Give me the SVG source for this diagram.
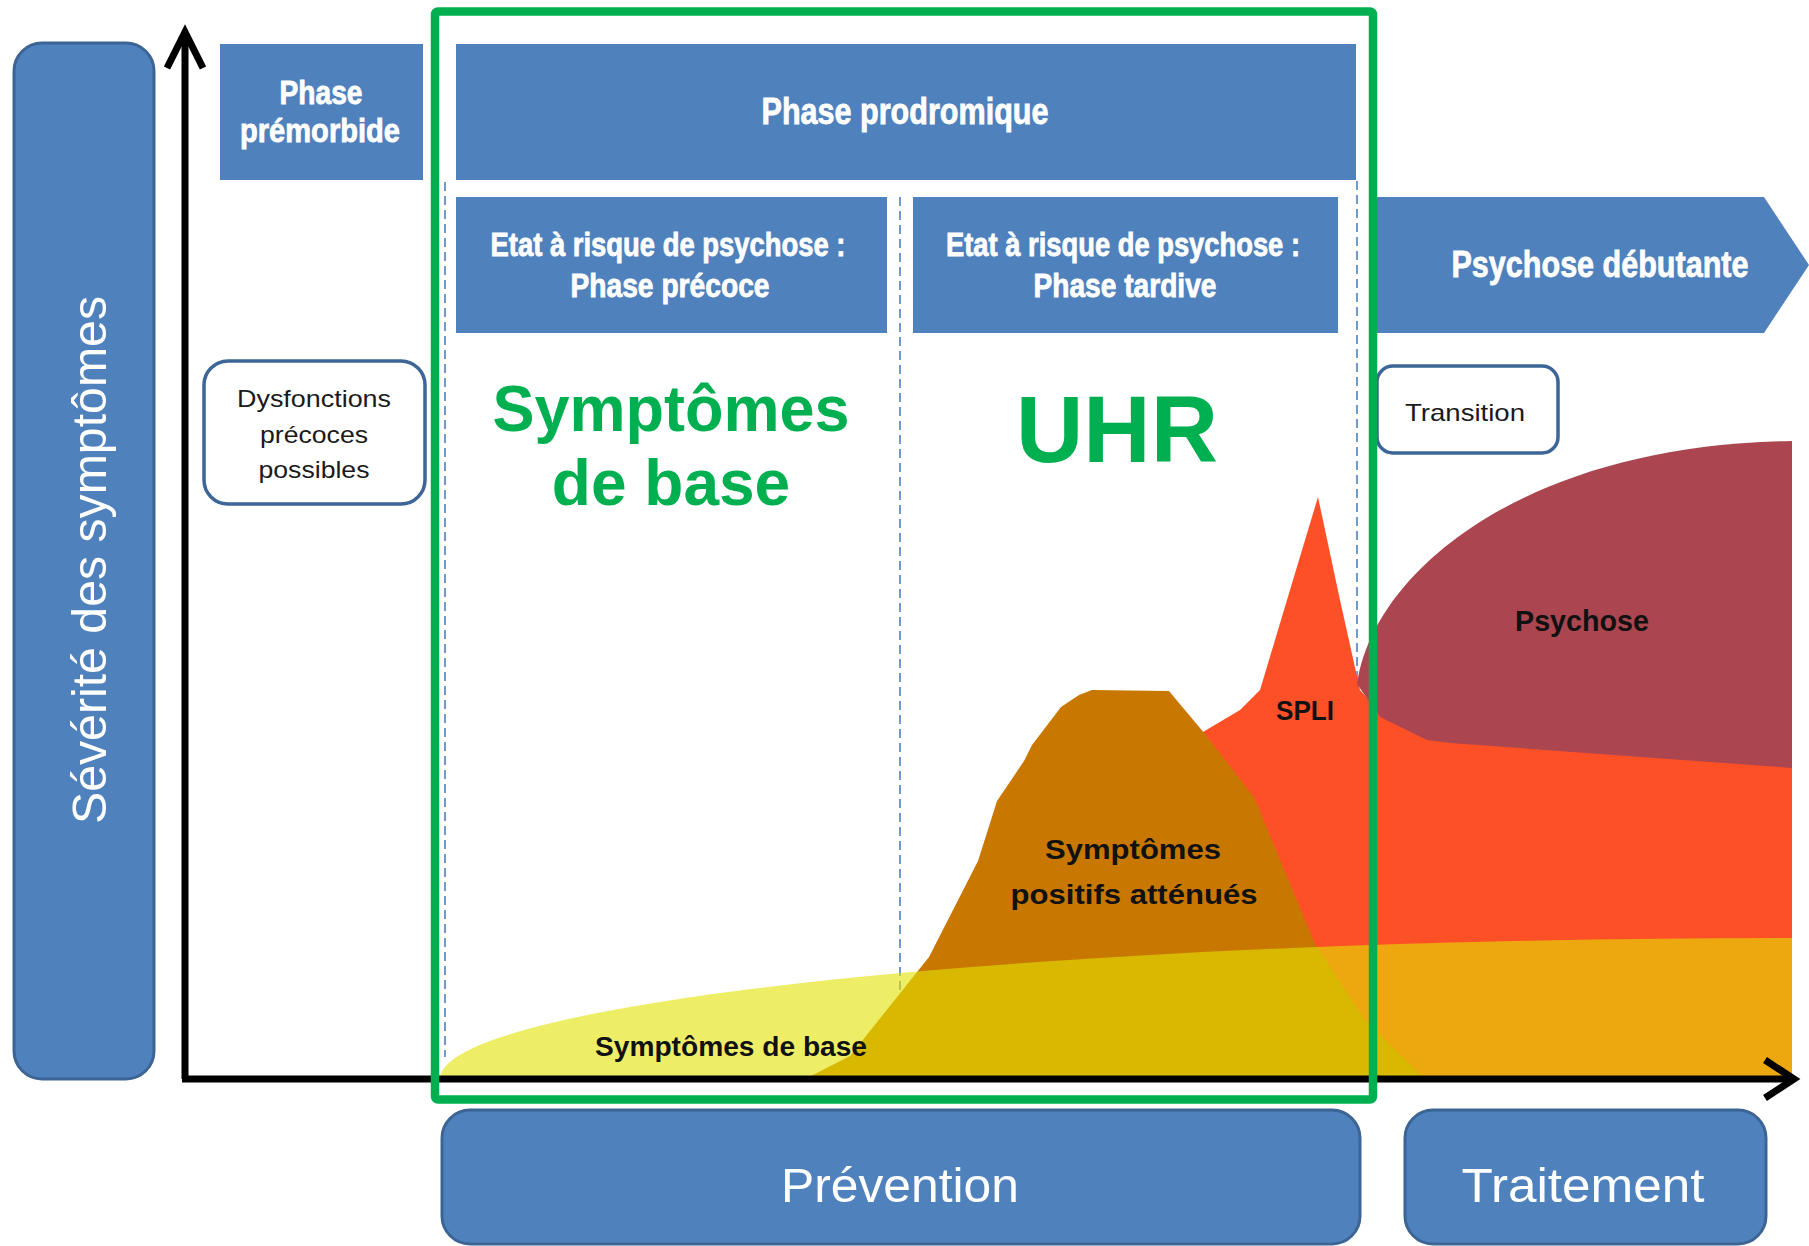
<svg xmlns="http://www.w3.org/2000/svg" width="1809" height="1246" viewBox="0 0 1809 1246">
  <style>
    .hdr { fill: #4F81BD; }
    .hdrText { font-family: "Liberation Sans", Arial, sans-serif; font-weight: bold; fill: #FFFFFF; stroke: #FFFFFF; stroke-width: 0.8; text-anchor: middle; }
    .pill { fill: #4F81BD; stroke: #3C6494; stroke-width: 3; }
    .pillText { font-family: "Liberation Sans", Arial, sans-serif; fill: #FFFFFF; text-anchor: middle; }
    .note { fill: #FFFFFF; stroke: #3D6597; stroke-width: 3.5; }
    .noteText { font-family: "Liberation Sans", Arial, sans-serif; fill: #1A1A1A; font-size: 24px; text-anchor: middle; }
    .areaText { font-family: "Liberation Sans", Arial, sans-serif; font-weight: bold; fill: #111111; text-anchor: middle; }
    .big { font-family: "Liberation Sans", Arial, sans-serif; font-weight: bold; fill: #00B050; text-anchor: middle; }
    .dash { stroke: #4F81BD; stroke-width: 1.6; stroke-dasharray: 9 5; fill: none; }
    .axis { stroke: #000000; stroke-width: 7; fill: none; }
  </style>

  <rect width="1809" height="1246" fill="#FFFFFF"/>

  <!-- vertical axis title -->
  <g id="severite">
    <rect class="pill" x="14" y="43" width="140" height="1036" rx="28"/>
    <text class="pillText" transform="translate(106,560) rotate(-90)" font-size="48" textLength="528" lengthAdjust="spacingAndGlyphs">Sévérité des symptômes</text>
  </g>

  <!-- phase headers -->
  <g id="premorbide">
    <rect class="hdr" x="220" y="44" width="203" height="136"/>
    <text class="hdrText" x="321" y="104" font-size="33" textLength="83" lengthAdjust="spacingAndGlyphs">Phase</text>
    <text class="hdrText" x="320" y="142" font-size="33" textLength="160" lengthAdjust="spacingAndGlyphs">prémorbide</text>
  </g>
  <g id="prodromique">
    <rect class="hdr" x="456" y="44" width="900" height="136"/>
    <text class="hdrText" x="905" y="124" font-size="37" textLength="287" lengthAdjust="spacingAndGlyphs">Phase prodromique</text>
  </g>
  <g id="precoce">
    <rect class="hdr" x="456" y="197" width="431" height="136"/>
    <text class="hdrText" x="668" y="256" font-size="33" textLength="355" lengthAdjust="spacingAndGlyphs">Etat à risque de psychose :</text>
    <text class="hdrText" x="670" y="297" font-size="33" textLength="199" lengthAdjust="spacingAndGlyphs">Phase précoce</text>
  </g>
  <g id="tardive">
    <rect class="hdr" x="913" y="197" width="425" height="136"/>
    <text class="hdrText" x="1123" y="256" font-size="33" textLength="354" lengthAdjust="spacingAndGlyphs">Etat à risque de psychose :</text>
    <text class="hdrText" x="1125" y="297" font-size="33" textLength="183" lengthAdjust="spacingAndGlyphs">Phase tardive</text>
  </g>
  <g id="debutante">
    <path class="hdr" d="M1376,197 L1764,197 L1809,265 L1764,333 L1376,333 Z"/>
    <text class="hdrText" x="1600" y="277" font-size="37" textLength="297" lengthAdjust="spacingAndGlyphs">Psychose débutante</text>
  </g>

  <!-- phase separators -->
  <g id="separators">
    <line class="dash" x1="445" y1="182" x2="445" y2="1057"/>
    <line class="dash" x1="900" y1="197" x2="900" y2="1060"/>
    <line class="dash" x1="1357" y1="181" x2="1357" y2="690"/>
  </g>

  <!-- callouts -->
  <g id="dysfonctions">
    <rect class="note" x="204" y="361" width="221" height="143" rx="24"/>
    <text class="noteText" x="314" y="407" textLength="154" lengthAdjust="spacingAndGlyphs">Dysfonctions</text>
    <text class="noteText" x="314" y="443" textLength="108" lengthAdjust="spacingAndGlyphs">précoces</text>
    <text class="noteText" x="314" y="478" textLength="111" lengthAdjust="spacingAndGlyphs">possibles</text>
  </g>
  <g id="transition">
    <rect class="note" x="1377" y="366" width="181" height="87" rx="16"/>
    <text class="noteText" x="1465" y="421" textLength="120" lengthAdjust="spacingAndGlyphs">Transition</text>
  </g>

  <!-- symptom curves -->
  <g id="spli">
    <path d="M1190,745 L1203,732 L1240,710 L1260,690 L1287,600 L1318,497 L1340,600 L1360,690 L1380,712 L1792,712 L1792,1079 L1250,1079 Z" fill="#FE5026"/>
    <text class="areaText" x="1305" y="720" font-size="28" textLength="58" lengthAdjust="spacingAndGlyphs">SPLI</text>
  </g>
  <g id="attenues">
    <path d="M805,1079 L850,1056 L929,957 L978,861 L997,801 L1024,761 L1032,745 L1061,707 L1079,695 L1092,690 L1169,691 L1205,734 L1254,797 L1315,944 L1364,1019 L1425,1079 Z" fill="#C87800"/>
    <text class="areaText" x="1133" y="859" font-size="28" textLength="176" lengthAdjust="spacingAndGlyphs">Symptômes</text>
    <text class="areaText" x="1134" y="904" font-size="28" textLength="247" lengthAdjust="spacingAndGlyphs">positifs atténués</text>
  </g>
  <g id="psychose">
    <path d="M1357,684 C1372,575 1520,445 1792,441 L1792,768 L1450,743 L1427,740 L1380,717 Z" fill="#AB4550"/>
    <text class="areaText" x="1582" y="631" font-size="29" textLength="134" lengthAdjust="spacingAndGlyphs">Psychose</text>
  </g>
  <g id="base">
    <path d="M440,1079 A1352,141 0 0 1 1792,938 L1792,1079 Z" fill="#E3E300" fill-opacity="0.6"/>
    <text class="areaText" x="731" y="1056" font-size="27" textLength="272" lengthAdjust="spacingAndGlyphs">Symptômes de base</text>
  </g>

  <!-- axes -->
  <g id="axes">
    <line class="axis" x1="185" y1="34" x2="185" y2="1079"/>
    <line class="axis" x1="182" y1="1079" x2="1792" y2="1079"/>
    <polyline class="axis" points="167,68 185,32 203,68" stroke-width="6"/>
    <polyline class="axis" points="1765,1060 1794,1079 1765,1098" stroke-width="6"/>
  </g>

  <!-- emphasised zone -->
  <g id="zone">
    <rect x="435" y="11.5" width="938" height="1088" rx="3" fill="none" stroke="#00B050" stroke-width="8.5"/>
    <text class="big" x="671" y="431" font-size="64" textLength="357" lengthAdjust="spacingAndGlyphs">Symptômes</text>
    <text class="big" x="671" y="505" font-size="64">de base</text>
    <text class="big" x="1117" y="462" font-size="95" textLength="202" lengthAdjust="spacingAndGlyphs">UHR</text>
  </g>

  <!-- action boxes -->
  <g id="prevention">
    <rect class="pill" x="442" y="1110" width="918" height="134" rx="28"/>
    <text class="pillText" x="900" y="1202" font-size="49" textLength="238" lengthAdjust="spacingAndGlyphs">Prévention</text>
  </g>
  <g id="traitement">
    <rect class="pill" x="1405" y="1110" width="361" height="134" rx="28"/>
    <text class="pillText" x="1583" y="1202" font-size="49" textLength="243" lengthAdjust="spacingAndGlyphs">Traitement</text>
  </g>
</svg>
